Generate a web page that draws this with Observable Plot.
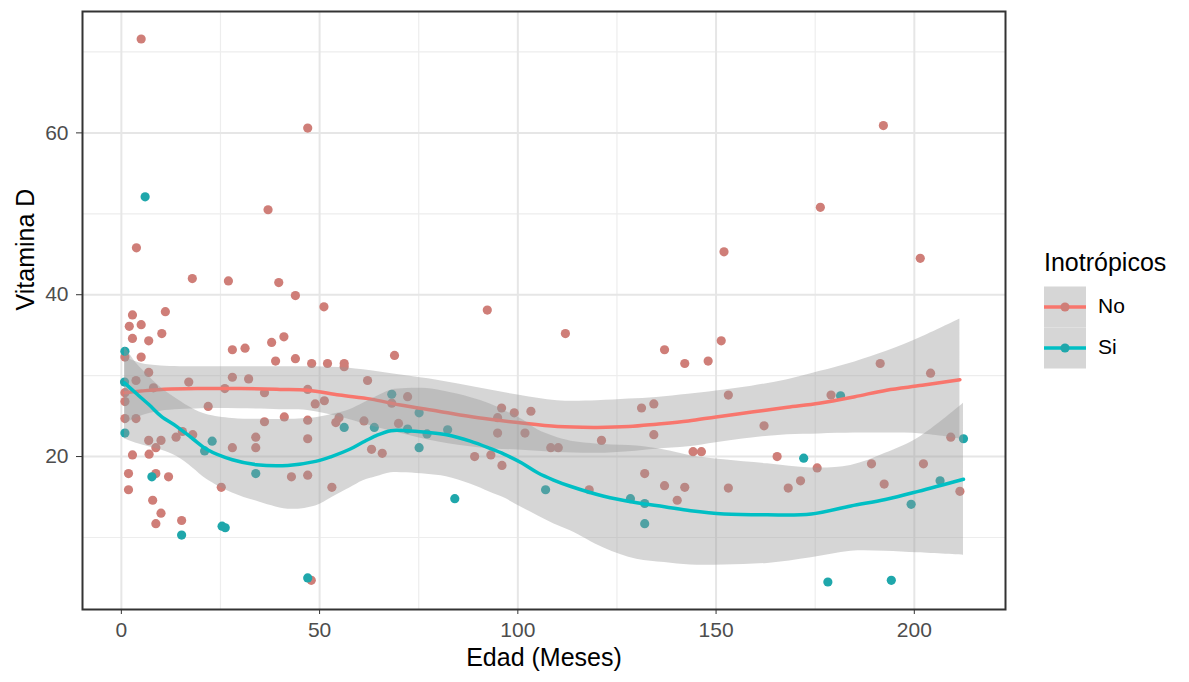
<!DOCTYPE html>
<html>
<head>
<meta charset="utf-8">
<script src="https://cdn.jsdelivr.net/npm/d3@7"></script>
<script src="https://cdn.jsdelivr.net/npm/@observablehq/plot@0.6"></script>
<style>
  body { margin: 0; background: #fff; font-family: "Liberation Sans", Arial, sans-serif; }
  #wrap { position: relative; width: 1189px; height: 682px; }
  #legend { position: absolute; left: 1040px; top: 245px; }
</style>
</head>
<body>
<div id="wrap"></div>
<script>
// ---------- data ----------
const groups = ["No", "Si"];
const groupColors = ["#F8766D", "#00BFC4"];
const pointColors = ["#cf7e78", "#1fa7ab"];
const legendTitle = "Inotrópicos";
const xTitle = "Edad (Meses)";
const yTitle = "Vitamina D";
const xTicks = [0, 50, 100, 150, 200];
const xMinor = [25, 75, 125, 175];
const yTicks = [20, 40, 60];
const yMinor = [10, 30, 50, 70];

// points, group "No"
const noAge = [5.0,47.0,37.0,3.8,17.9,27.0,39.7,43.9,51.1,2.8,2.0,5.0,11.1,2.8,6.9,10.2,0.9,5.0,6.9,3.7,0.9,0.9,0.9,3.7,2.8,6.9,10.0,8.7,7.0,1.8,1.8,8.7,11.9,7.9,10.0,8.7,15.2,47.9,17.0,28.0,31.2,37.9,41.0,38.9,43.9,48.0,52.0,56.2,56.2,28.0,32.1,26.1,36.1,47.0,62.1,21.9,48.9,51.2,41.1,36.1,47.0,54.1,54.9,61.2,63.1,13.8,15.4,18.0,28.0,33.9,33.9,47.0,42.9,47.0,53.1,25.2,8.1,65.8,68.9,92.3,112.0,137.0,142.1,68.2,72.2,69.9,95.9,94.9,99.1,103.3,94.9,101.8,89.1,93.2,96.0,108.3,110.2,121.1,118.0,131.2,134.3,134.3,132.0,137.0,142.1,140.2,144.2,146.3,152.0,176.3,192.2,201.5,151.3,148.0,153.1,162.1,191.4,204.1,179.0,153.1,165.4,175.5,168.2,171.3,189.2,192.4,202.3,209.2,211.5];
const noVitD = [71.6,60.6,50.5,45.8,42.0,41.7,41.5,39.9,38.5,37.5,36.1,36.3,37.9,34.6,34.3,35.2,32.3,32.3,30.4,29.4,27.9,26.8,24.7,24.7,20.2,22.0,22.0,21.1,20.3,17.9,15.9,17.9,17.5,14.6,13.0,11.7,12.1,4.7,29.2,33.2,33.4,34.1,34.8,31.8,32.1,31.5,31.5,31.5,31.1,29.8,29.6,28.4,27.9,28.3,29.4,26.2,26.5,26.9,24.9,24.3,24.5,24.2,24.8,24.4,20.9,22.4,23.1,22.7,21.1,22.4,21.1,22.2,17.5,17.7,16.2,16.2,28.5,20.4,32.5,38.1,35.2,33.2,31.5,26.6,27.4,24.1,26.0,24.8,25.4,25.6,22.9,22.9,20.0,20.2,18.9,21.1,21.1,22.0,15.9,26.0,26.5,22.7,17.9,16.4,16.2,14.6,20.6,20.6,45.3,50.8,60.9,44.5,34.3,31.8,27.6,23.8,31.5,30.3,27.6,16.1,20.0,18.6,16.1,17.0,19.1,16.6,19.1,22.4,15.7];

// points, group "Si"
const siAge = [6.0,0.9,0.8,0.9,7.7,15.2,25.4,26.2,47.0,56.2,63.8,22.9,21.0,33.9,68.2,75.1,72.2,77.1,82.3,75.1,84.1,107.0,128.4,132.0,132.0,181.4,172.1,199.2,206.5,212.4,178.2,194.2];
const siVitD = [52.1,33.0,29.2,22.9,17.5,10.3,11.4,11.2,5.0,23.6,23.6,21.9,20.7,17.9,27.7,25.4,23.4,22.8,23.3,21.1,14.8,15.9,14.8,14.2,11.7,27.5,19.8,14.1,17.0,22.2,4.5,4.7];

// smoother (loess), group "No"
const noFitAge = [0.9,5,10,20,30,40,47,55,63,70,80,90,100,110,120,128,135,143,150,159,168,176,185,193,202,211.5];
const noFit    = [27.9,28.1,28.3,28.4,28.4,28.3,28.2,27.6,27.1,26.4,25.6,24.8,24.2,23.7,23.6,23.7,24.0,24.4,24.9,25.5,26.1,26.6,27.4,28.2,28.8,29.5];
const noHi     = [32.3,31.5,31.2,31.1,31.1,31.1,31.1,31.0,30.6,30.1,29.4,28.5,27.6,26.9,26.9,27.1,27.3,27.7,28.1,28.7,29.5,30.5,31.7,33.0,34.8,37.0];
const noLo     = [24.0,25.0,25.6,25.9,25.9,25.8,25.7,24.9,23.8,22.9,21.8,21.1,20.8,20.5,20.4,20.6,20.9,21.2,21.7,22.3,22.7,22.8,22.9,22.9,22.8,22.2];

// smoother (loess), group "Si"
const siFitAge = [0.8,4,7,10,14,18,21.5,28,34,42,49,53,57.6,61,64.3,68,72,77,82,88,93,96.5,101,105,109,113.4,121.7,130,137,143.6,152,163,174,184,192.7,201,212.4];
const siFit    = [29.1,27.7,26.4,25.0,23.7,22.2,20.9,19.6,19.0,18.9,19.4,20.0,20.9,21.8,22.6,23.2,23.2,23.0,22.7,21.9,21.0,20.3,19.2,18.0,17.1,16.3,15.1,14.3,13.8,13.3,12.9,12.8,12.9,13.9,14.7,15.7,17.2];
const siHi     = [33.6,31.4,29.9,28.5,27.1,25.9,25.2,24.7,24.6,24.6,24.8,25.2,25.8,26.6,27.4,28.2,28.4,28.4,28.0,27.3,26.5,25.7,24.6,23.3,22.5,21.9,21.5,21.3,20.8,20.1,19.6,19.1,18.6,18.9,20.4,22.3,26.6];
const siLo     = [22.2,21.6,21.2,20.8,20.0,18.6,17.2,15.5,14.5,13.5,13.9,14.9,16.1,17.0,17.5,18.0,18.0,17.8,17.5,16.6,15.6,14.9,13.7,12.7,11.7,10.8,8.7,7.3,6.9,6.6,6.6,6.8,7.5,8.3,8.3,8.1,7.8];

// ---------- tables ----------
const ptsNo = noAge.map((a, i) => ({age: a, vit: noVitD[i], g: "No"}));
const ptsSi = siAge.map((a, i) => ({age: a, vit: siVitD[i], g: "Si"}));
const fitNo = noFitAge.map((a, i) => ({age: a, fit: noFit[i], lo: noLo[i], hi: noHi[i]}));
const fitSi = siFitAge.map((a, i) => ({age: a, fit: siFit[i], lo: siLo[i], hi: siHi[i]}));

const font = "'Liberation Sans', Arial, sans-serif";
const curve = "catmull-rom";

const chart = Plot.plot({
  width: 1189,
  height: 682,
  marginLeft: 82,
  marginRight: 184,
  marginTop: 11,
  marginBottom: 73,
  style: {fontFamily: font, background: "white", overflow: "visible"},
  x: {domain: [-9.8, 223]},
  y: {domain: [1.1, 75]},
  marks: [
    Plot.gridX({ticks: xMinor, stroke: "#ededed", strokeOpacity: 1, strokeWidth: 1.2}),
    Plot.gridY({ticks: yMinor, stroke: "#ededed", strokeOpacity: 1, strokeWidth: 1.2}),
    Plot.gridX({ticks: xTicks, stroke: "#e6e6e6", strokeOpacity: 1, strokeWidth: 2}),
    Plot.gridY({ticks: yTicks, stroke: "#e6e6e6", strokeOpacity: 1, strokeWidth: 2}),
    Plot.dot(ptsNo, {x: "age", y: "vit", r: 4.6, fill: pointColors[0], stroke: "none"}),
    Plot.dot(ptsSi, {x: "age", y: "vit", r: 4.6, fill: pointColors[1], stroke: "none"}),
    Plot.areaY(fitNo, {x: "age", y1: "lo", y2: "hi", fill: "#999999", fillOpacity: 0.4, curve}),
    Plot.line(fitNo, {x: "age", y: "fit", stroke: groupColors[0], strokeWidth: 3.5, curve}),
    Plot.areaY(fitSi, {x: "age", y1: "lo", y2: "hi", fill: "#999999", fillOpacity: 0.4, curve}),
    Plot.line(fitSi, {x: "age", y: "fit", stroke: groupColors[1], strokeWidth: 3.5, curve}),
    Plot.frame({stroke: "#333333", strokeWidth: 2}),
    Plot.axisX({ticks: xTicks, tickSize: 5, tickPadding: 8, fontSize: 21, stroke: "#333333", fill: "#4d4d4d", label: null}),
    Plot.axisY({ticks: yTicks, tickSize: 6, tickPadding: 8, fontSize: 21, stroke: "#333333", fill: "#4d4d4d", label: null}),
    Plot.text([xTitle], {frameAnchor: "bottom", dy: 56, fontSize: 25, fill: "#000"}),
    Plot.text([yTitle], {frameAnchor: "left", dx: -57, rotate: -90, fontSize: 25, fill: "#000"})
  ]
});

const wrap = document.getElementById("wrap");
wrap.appendChild(chart);

// ---------- legend ----------
const leg = d3.select(wrap).append("svg")
  .attr("id", "legend")
  .attr("width", 148).attr("height", 135)
  .style("font-family", font);
leg.append("text").attr("x", 4).attr("y", 19)
  .attr("dominant-baseline", "middle")
  .attr("font-size", 25).attr("fill", "#000").text(legendTitle);
const rowY = [62, 103];
groups.forEach((g, i) => {
  const cy = rowY[i];
  leg.append("rect").attr("x", 4).attr("y", cy - 20.5).attr("width", 42).attr("height", 41)
    .attr("fill", "#d6d6d6");
  leg.append("line").attr("x1", 4).attr("x2", 46).attr("y1", cy).attr("y2", cy)
    .attr("stroke", groupColors[i]).attr("stroke-width", 3.5);
  leg.append("circle").attr("cx", 25).attr("cy", cy).attr("r", 4.6).attr("fill", pointColors[i]);
  leg.append("text").attr("x", 58).attr("y", cy)
    .attr("dominant-baseline", "middle")
    .attr("font-size", 21).attr("fill", "#000").text(g);
});
</script>
</body>
</html>
